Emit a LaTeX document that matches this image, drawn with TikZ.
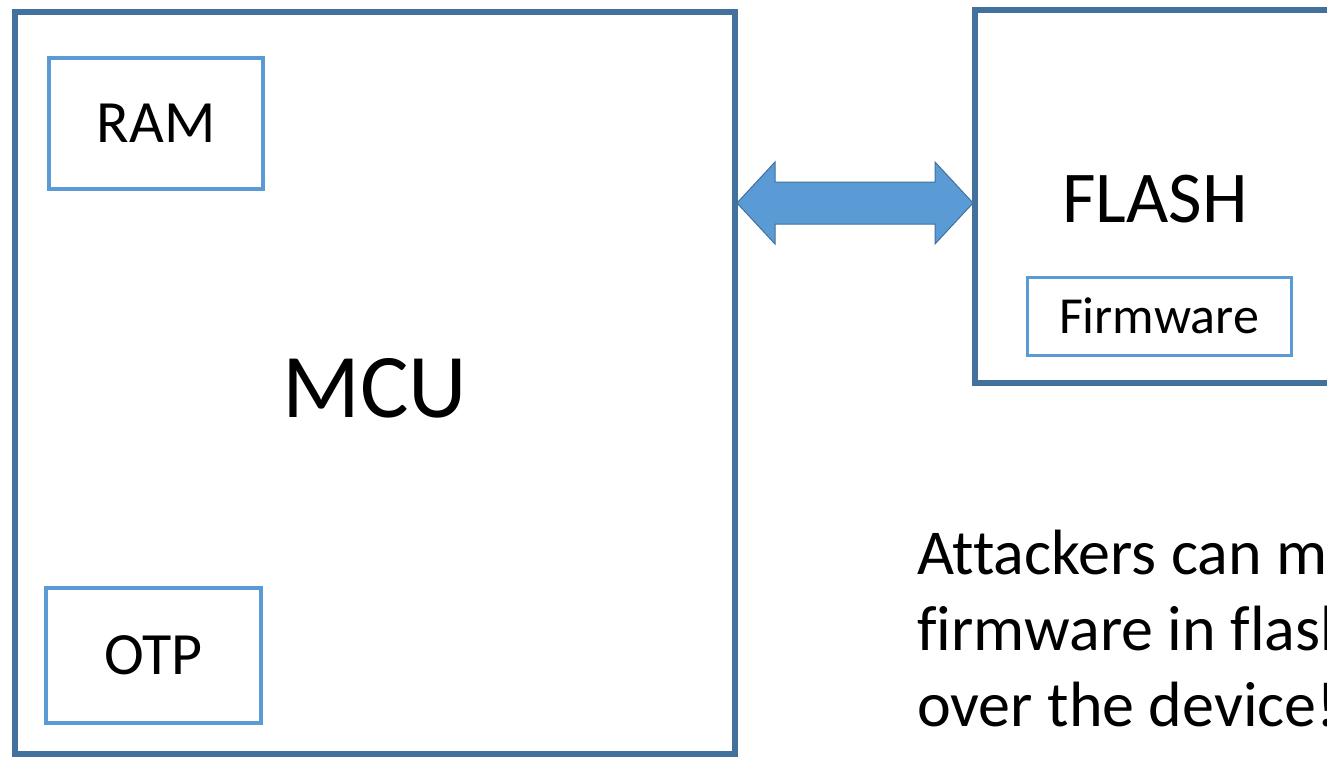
\documentclass[tikz,border=0pt]{standalone}
\usepackage{fontspec}
\setmainfont[Ligatures={NoCommon}]{Carlito}
\usetikzlibrary{calc}
\definecolor{darkblue}{RGB}{65,113,156}
\definecolor{lightblue}{RGB}{91,155,213}
\tikzset{
  outerbox/.style={draw=darkblue, line width=6pt, rectangle, inner sep=0pt},
  innerbox/.style={draw=lightblue, line width=4pt, rectangle, inner sep=0pt},
  fsz/.style={font=\fontsize{#1}{#1}\selectfont}
}
\begin{document}
\begin{tikzpicture}[x=1pt,y=1pt]
\useasboundingbox (0,0) rectangle (1327,-758);
\clip (0,0) rectangle (1327,-758);
\fill[white] (0,0) rectangle (1327,-758);
% MCU
\node[outerbox, minimum width=720pt, minimum height=742pt] (mcu) at (375,-383) {};
\node[fsz=91, anchor=base] (mcutext) at (375,-417) {MCU};
\node[innerbox, minimum width=214pt, minimum height=131pt, fsz=60] (ram) at (156,-123.5) {RAM};
\node[innerbox, minimum width=215pt, minimum height=135pt, fsz=60] (otp) at (153.5,-655.5) {OTP};
% FLASH
\node[outerbox, minimum width=385pt, minimum height=373pt] (flash) at (1167.5,-196.5) {};
\node[fsz=73, anchor=base] (flashtext) at (1155,-222) {FLASH};
\node[innerbox, line width=3pt, minimum width=264pt, minimum height=78pt, fsz=52] (fw) at (1159,-316) {Firmware};
% double arrow
\coordinate (al) at (737,-203);
\coordinate (ar) at (973,-203);
\draw[draw=darkblue, line width=1pt, fill=lightblue, line join=miter]
  (al) -- ($(al)+(38,41)$) -- ($(al)+(38,21)$) -- ($(ar)+(-38,21)$) -- ($(ar)+(-38,41)$)
  -- (ar) -- ($(ar)+(-38,-41)$) -- ($(ar)+(-38,-21)$) -- ($(al)+(38,-21)$) -- ($(al)+(38,-41)$) -- cycle;
% text
\node[fsz=64, anchor=base west, inner sep=0pt] (t1) at (917,-574) {Attackers can modify};
\node[fsz=64, anchor=base west, inner sep=0pt] (t2) at (917,-650) {firmware in flash};
\node[fsz=64, anchor=base west, inner sep=0pt] (t3) at (917,-726) {over the device!};
\end{tikzpicture}
\end{document}
